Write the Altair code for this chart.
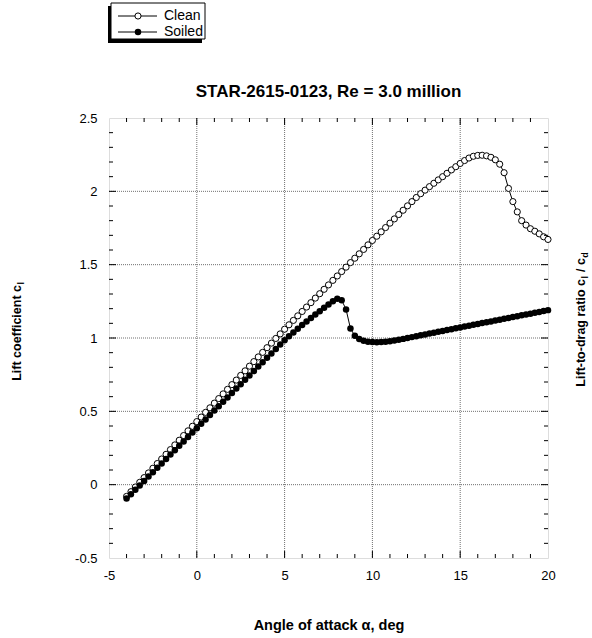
import altair as alt
import pandas as pd

# ---------------- data ----------------
alpha = [-4.0, -3.75, -3.5, -3.25, -3.0, -2.75, -2.5, -2.25, -2.0, -1.75, -1.5, -1.25,
         -1.0, -0.75, -0.5, -0.25, 0.0, 0.25, 0.5, 0.75, 1.0, 1.25, 1.5, 1.75,
         2.0, 2.25, 2.5, 2.75, 3.0, 3.25, 3.5, 3.75, 4.0, 4.25, 4.5, 4.75,
         5.0, 5.25, 5.5, 5.75, 6.0, 6.25, 6.5, 6.75, 7.0, 7.25, 7.5, 7.75,
         8.0, 8.25, 8.5, 8.75, 9.0, 9.25, 9.5, 9.75, 10.0, 10.25, 10.5, 10.75,
         11.0, 11.25, 11.5, 11.75, 12.0, 12.25, 12.5, 12.75, 13.0, 13.25, 13.5, 13.75,
         14.0, 14.25, 14.5, 14.75, 15.0, 15.25, 15.5, 15.75, 16.0, 16.25, 16.5, 16.75,
         17.0, 17.25, 17.5, 17.75, 18.0, 18.25, 18.5, 18.75, 19.0, 19.25, 19.5, 19.75,
         20.0]

cl_clean = [-0.080, -0.048, -0.016, 0.016, 0.048, 0.080, 0.112, 0.144, 0.175, 0.207, 0.239, 0.271,
            0.303, 0.335, 0.367, 0.398, 0.430, 0.461, 0.493, 0.524, 0.556, 0.587, 0.619, 0.650,
            0.682, 0.713, 0.745, 0.776, 0.808, 0.839, 0.871, 0.902, 0.934, 0.965, 0.997, 1.028,
            1.060, 1.090, 1.120, 1.151, 1.181, 1.211, 1.241, 1.272, 1.302, 1.332, 1.362, 1.393,
            1.423, 1.453, 1.483, 1.514, 1.544, 1.574, 1.604, 1.635, 1.665, 1.694, 1.724, 1.753,
            1.783, 1.812, 1.842, 1.871, 1.901, 1.930, 1.958, 1.984, 2.008, 2.032, 2.055, 2.078,
            2.100, 2.123, 2.146, 2.168, 2.190, 2.210, 2.227, 2.239, 2.245, 2.246, 2.242, 2.232,
            2.215, 2.185, 2.127, 2.020, 1.930, 1.860, 1.800, 1.770, 1.745, 1.728, 1.710, 1.690,
            1.672]

cl_soiled = [-0.095, -0.065, -0.035, -0.005, 0.025, 0.055, 0.085, 0.115, 0.145, 0.175, 0.205, 0.235,
             0.265, 0.295, 0.325, 0.355, 0.385, 0.415, 0.445, 0.475, 0.505, 0.535, 0.565, 0.595,
             0.625, 0.655, 0.685, 0.715, 0.745, 0.775, 0.805, 0.835, 0.865, 0.895, 0.925, 0.955,
             0.985, 1.012, 1.038, 1.063, 1.088, 1.112, 1.136, 1.160, 1.183, 1.206, 1.228, 1.250,
             1.268, 1.258, 1.195, 1.065, 1.015, 0.993, 0.982, 0.975, 0.972, 0.971, 0.972, 0.974,
             0.978, 0.983, 0.988, 0.994, 1.000, 1.006, 1.012, 1.018, 1.024, 1.030, 1.036, 1.042,
             1.048, 1.054, 1.060, 1.066, 1.072, 1.078, 1.084, 1.090, 1.096, 1.102, 1.108, 1.113,
             1.119, 1.125, 1.131, 1.137, 1.143, 1.149, 1.155, 1.161, 1.166, 1.172, 1.178, 1.184,
             1.190]

x_labels = [-5, 0, 5, 10, 15, 20]
y_labels = [-0.5, 0, 0.5, 1, 1.5, 2, 2.5]
x_major = [0, 5, 10, 15]
x_minor = [-4, -3, -2, -1, 1, 2, 3, 4, 6, 7, 8, 9, 11, 12, 13, 14, 16, 17, 18, 19]
y_major = [0.0, 0.5, 1.0, 1.5, 2.0]
y_minor = [-0.4, -0.3, -0.2, -0.1, 0.1, 0.2, 0.3, 0.4, 0.6, 0.7, 0.8, 0.9,
           1.1, 1.2, 1.3, 1.4, 1.6, 1.7, 1.8, 1.9, 2.1, 2.2, 2.3, 2.4]

title_text = "STAR-2615-0123, Re = 3.0 million"
x_title = "Angle of attack α, deg"
series_names = ["Clean", "Soiled"]

# ---------------- layout ----------------
W, H = 439, 440
FONT = "Liberation Sans"
GRID = "#707070"
S_OPEN, S_FILL = 38, 42

xs = alt.Scale(domain=[-5, 20], nice=False, zero=False)
ys = alt.Scale(domain=[-0.5, 2.5], nice=False, zero=False)

df_clean = pd.DataFrame({"alpha": alpha, "cl": cl_clean})
df_soiled = pd.DataFrame({"alpha": alpha, "cl": cl_soiled})

x_axis = alt.Axis(values=x_labels, grid=False, ticks=False, domain=False,
                  labelExpr="datum.value + ''", labelFont=FONT, labelFontSize=13,
                  labelColor="black", labelPadding=11, labelFlush=False,
                  title=x_title, titleFont=FONT, titleFontSize=14.5, titleFontWeight="bold",
                  titleColor="black", titleBaseline="alphabetic", titleY=71)
y_axis = alt.Axis(values=y_labels, grid=False, ticks=False, domain=False,
                  labelExpr="datum.value + ''", labelFont=FONT, labelFontSize=13,
                  labelColor="black", labelPadding=12, labelFlush=False, title=None)


def X(field):
    return alt.X(field, scale=xs, axis=x_axis, title=x_title)


def Y(field):
    return alt.Y(field, scale=ys, axis=y_axis, title=None)


# grid lines
grid_x = alt.Chart(pd.DataFrame({"v": x_major})).mark_rule(
    color=GRID, strokeDash=[1, 1], strokeWidth=1).encode(x=X("v:Q"))
grid_y = alt.Chart(pd.DataFrame({"v": y_major})).mark_rule(
    color=GRID, strokeDash=[1, 1], strokeWidth=1).encode(y=Y("v:Q"))

# curves
clean_line = alt.Chart(df_clean).mark_line(color="black", strokeWidth=1).encode(
    x=X("alpha:Q"), y=Y("cl:Q"))
clean_pts = alt.Chart(df_clean).mark_circle(
    size=S_OPEN, fill="white", stroke="black", strokeWidth=1, opacity=1).encode(
    x=X("alpha:Q"), y=Y("cl:Q"))
soiled_line = alt.Chart(df_soiled).mark_line(color="black", strokeWidth=1).encode(
    x=X("alpha:Q"), y=Y("cl:Q"))
soiled_pts = alt.Chart(df_soiled).mark_circle(
    size=S_FILL, color="black", opacity=1).encode(
    x=X("alpha:Q"), y=Y("cl:Q"))


# inward ticks on all four sides
def xticks(vals, y0, y1):
    return alt.Chart(pd.DataFrame({"v": vals})).mark_rule(color="black", strokeWidth=1).encode(
        x=X("v:Q"), y=alt.value(y0), y2=alt.value(y1))


def yticks(vals, x0, x1):
    return alt.Chart(pd.DataFrame({"v": vals})).mark_rule(color="black", strokeWidth=1).encode(
        y=Y("v:Q"), x=alt.value(x0), x2=alt.value(x1))


ticks = [
    xticks(x_minor, H, H - 4), xticks(x_minor, 0, 4),
    xticks(x_major, H, H - 7), xticks(x_major, 0, 7),
    yticks(y_minor, 0, 4), yticks(y_minor, W, W - 4),
    yticks(y_major, 0, 7), yticks(y_major, W, W - 7),
]


def one(t=""):
    return pd.DataFrame({"t": [t]})


def text(t, x, y, size, weight="normal", align="center", baseline="alphabetic",
         angle=0, dx=0, dy=0):
    return alt.Chart(one(t)).mark_text(
        font=FONT, fontSize=size, fontWeight=weight, align=align, baseline=baseline,
        angle=angle, dx=dx, dy=dy, color="black").encode(
        text="t:N", x=alt.value(x), y=alt.value(y))


# chart title
title = text(title_text, W / 2, -21, 17, "bold")

# left axis title  "Lift coefficient c_l"
ly_x, ly_y = -88.5, 167
left_title = [
    text("Lift coefficient c", ly_x, ly_y, 12.5, "bold", "right", angle=270),
    text("l", ly_x, ly_y, 9, "bold", "left", angle=270, dx=0.5, dy=3),
]

# right axis title "Lift-to-drag ratio c_l / c_d"
ry_x, ry_y = 475.5, 161
right_title = [
    text("Lift-to-drag ratio c", ry_x, ry_y, 12.5, "bold", "right", angle=270),
    text("l", ry_x, ry_y, 9, "bold", "left", angle=270, dx=0.5, dy=3),
    text("/ c", ry_x, ry_y, 12.5, "bold", "left", angle=270, dx=7),
    text("d", ry_x, ry_y, 9, "bold", "left", angle=270, dx=21.2, dy=3),
]

# legend box with shadow
shadow = alt.Chart(one()).mark_rect(color="black").encode(
    x=alt.value(-1), x2=alt.value(93), y=alt.value(-112), y2=alt.value(-75))
box = alt.Chart(one()).mark_rect(fill="white", stroke="black", strokeWidth=1).encode(
    x=alt.value(2), x2=alt.value(96), y=alt.value(-115), y2=alt.value(-79))
leg_rows = [-102, -86]
legend = [shadow, box]
for name, yy, filled in zip(series_names, leg_rows, [False, True]):
    legend.append(alt.Chart(one()).mark_rule(color="black", strokeWidth=1).encode(
        x=alt.value(9), x2=alt.value(48), y=alt.value(yy)))
    if filled:
        legend.append(alt.Chart(one()).mark_circle(size=S_FILL, color="black", opacity=1).encode(
            x=alt.value(29), y=alt.value(yy)))
    else:
        legend.append(alt.Chart(one()).mark_circle(
            size=S_OPEN, fill="white", stroke="black", strokeWidth=1, opacity=1).encode(
            x=alt.value(29), y=alt.value(yy)))
    legend.append(text(name, 55, yy, 14, "normal", "left", baseline="middle"))

chart = alt.layer(
    grid_x, grid_y, clean_line, clean_pts, soiled_line, soiled_pts,
    *ticks, title, *left_title, *right_title, *legend
).properties(
    width=W, height=H,
    padding={"left": 109, "top": 118, "right": 44, "bottom": 80},
    autosize=alt.AutoSizeParams(type="none"),
).configure_view(stroke="black", strokeWidth=1).configure(font=FONT)

chart.save("out.html", embed_options={"renderer": "svg", "actions": False})
